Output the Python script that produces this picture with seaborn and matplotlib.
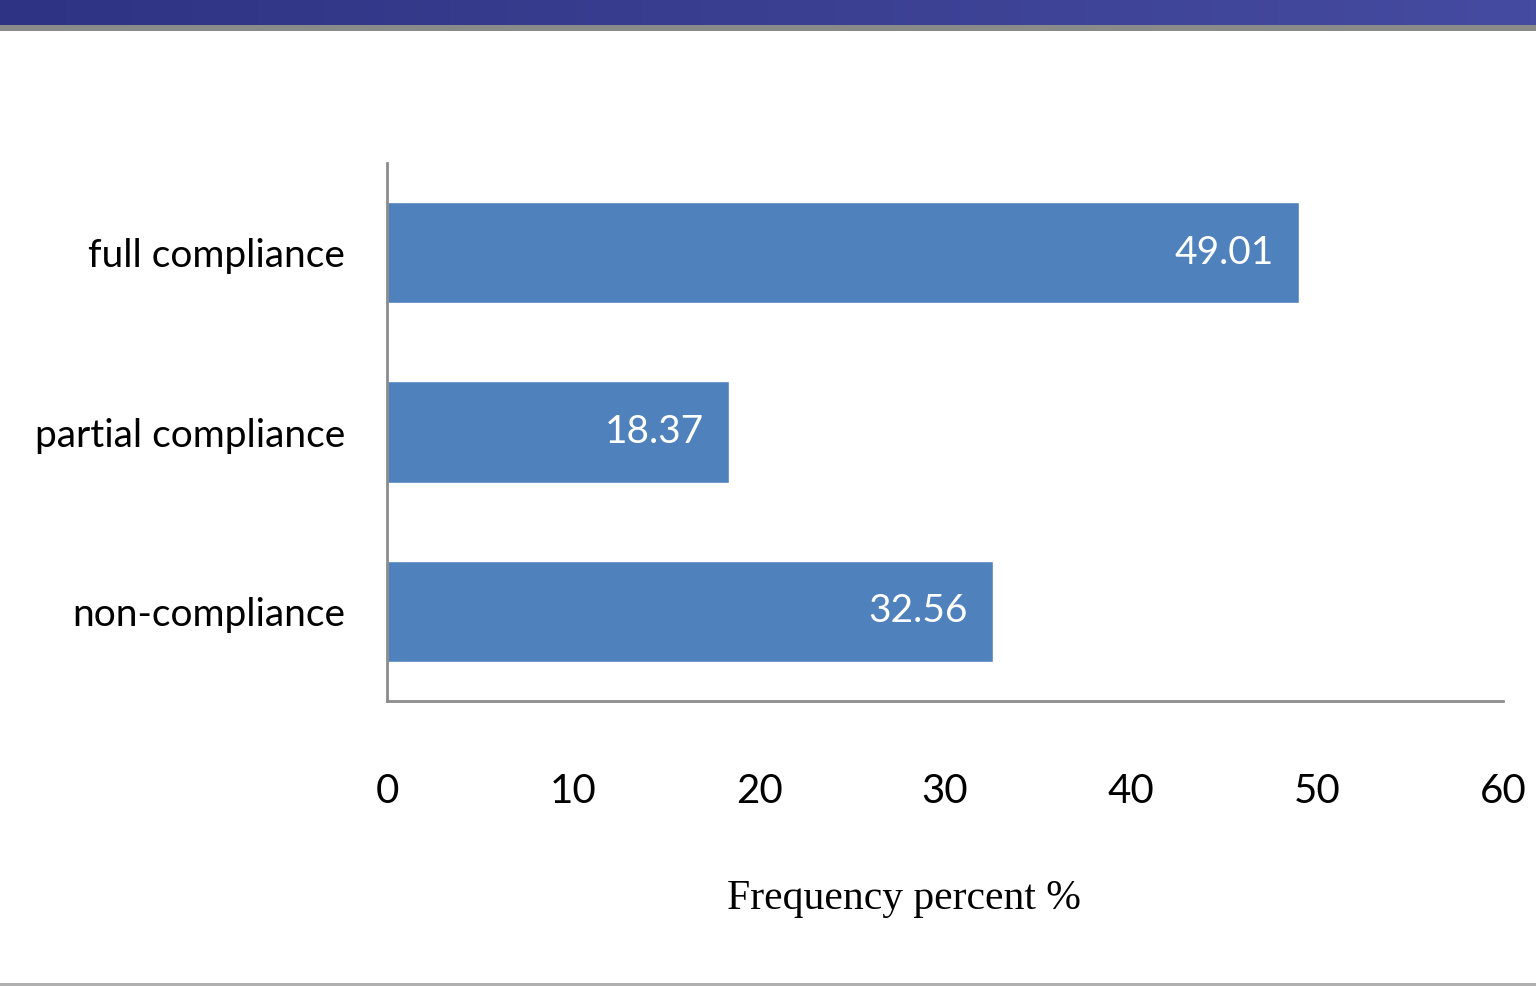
import numpy as np
import pandas as pd
import seaborn as sns
from matplotlib import pyplot as plt
from matplotlib.colors import LinearSegmentedColormap
from matplotlib.patches import Rectangle

# values
categories = ['full compliance', 'partial compliance', 'non-compliance']
values = [49.01, 18.37, 32.56]
xticks = [0, 10, 20, 30, 40, 50, 60]

df = pd.DataFrame({'category': categories, 'percent': values})

sns.set_style('white')
plt.rcParams['font.family'] = ['Lato', 'DejaVu Sans']

W, H = 1536, 986
fig = plt.figure(figsize=(W / 100, H / 100), dpi=100)

# slide header band
hdr = fig.add_axes([0, 1 - 25 / H, 1, 25 / H])
grad = np.linspace(0, 1, 256).reshape(1, -1)
cm = LinearSegmentedColormap.from_list('hdr', ['#2f3383', '#454ba0'])
hdr.imshow(grad, aspect='auto', cmap=cm, extent=[0, 1, 0, 1])
hdr.axis('off')
fig.patches.append(Rectangle((0, 1 - 31 / H), 1, 6 / H, transform=fig.transFigure,
                             facecolor='#8a8a8a', edgecolor='none'))
fig.patches.append(Rectangle((0, 0), 1, 3 / H, transform=fig.transFigure,
                             facecolor='#b0b0b0', edgecolor='none'))

ax = fig.add_axes([387 / W, 1 - 701 / H, (1503 - 387) / W, (701 - 163) / H])
sns.barplot(data=df, x='percent', y='category', orient='h', color='#4f81bd',
            saturation=1, width=0.565, ax=ax)

ax.set_xlim(0, 60)
ax.set_xticks(xticks)
ax.set_ylim(2.5, -0.5)
ax.set_ylabel('')
ax.set_xlabel('Frequency percent %', fontsize=30, family='Liberation Serif',
              labelpad=50, color='black')
ax.xaxis.label.set_x((904 - 387) / (1503 - 387))
ax.tick_params(axis='x', labelsize=29, length=0, pad=52, labelcolor='black')
ax.tick_params(axis='y', labelsize=28, length=0, pad=30, labelcolor='black')

for s in ['top', 'right']:
    ax.spines[s].set_visible(False)
for s in ['left', 'bottom']:
    ax.spines[s].set_color('#8c8c8c')
    ax.spines[s].set_linewidth(2)

for i, v in enumerate(values):
    ax.annotate(f'{v:.2f}', xy=(v, i), xytext=(-25, 0), textcoords='offset pixels',
                ha='right', va='center', color='white', fontsize=28)

fig.savefig('out.png', dpi=100)
